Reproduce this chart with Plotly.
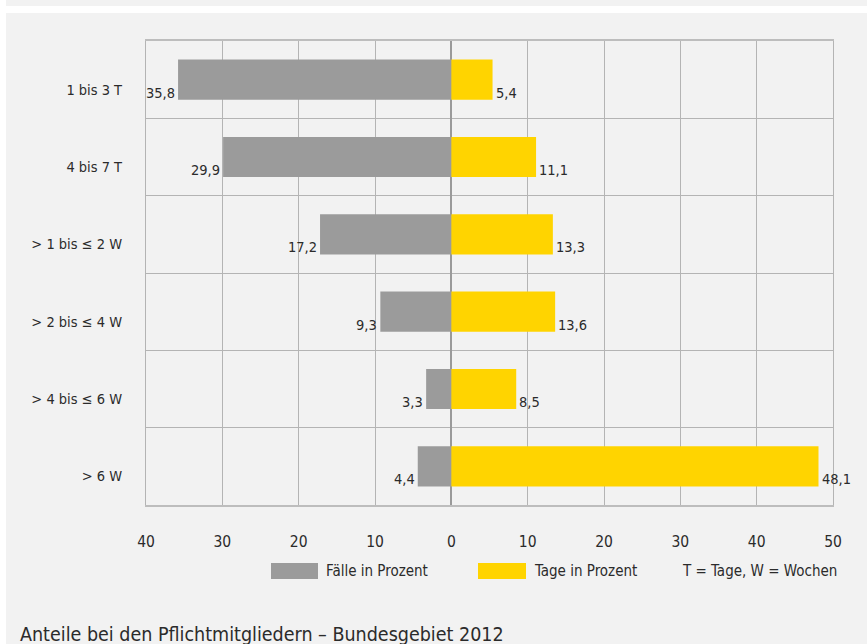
import plotly.graph_objects as go

categories = ["1 bis 3 T", "4 bis 7 T", "> 1 bis ≤ 2 W", "> 2 bis ≤ 4 W", "> 4 bis ≤ 6 W", "> 6 W"]
faelle = [35.8, 29.9, 17.2, 9.3, 3.3, 4.4]
tage = [5.4, 11.1, 13.3, 13.6, 8.5, 48.1]
x_ticks = [-40, -30, -20, -10, 0, 10, 20, 30, 40, 50]
x_ticktext = [str(abs(v)) for v in x_ticks]

FONT = "DejaVu Sans Condensed, Roboto Condensed, Liberation Sans Narrow, Roboto, sans-serif"
TXT = "#2b2b2b"
GRAY = "#9b9b9b"
YELLOW = "#ffd400"
GRID = "#b4b4b4"
BG = "#f2f2f2"

def fmt(v):
    return f"{v:.1f}".replace(".", ",")

fig = go.Figure()
fig.add_trace(go.Bar(y=categories, x=[-v for v in faelle], orientation="h",
                     marker=dict(color=GRAY, line=dict(width=0)), name="Fälle in Prozent",
                     hoverinfo="skip"))
fig.add_trace(go.Bar(y=categories, x=tage, orientation="h",
                     marker=dict(color=YELLOW, line=dict(width=0)), name="Tage in Prozent",
                     hoverinfo="skip"))

annotations = []
for c, v in zip(categories, faelle):
    annotations.append(dict(x=-v, y=c, xref="x", yref="y", text=fmt(v), showarrow=False,
                            xanchor="right", yanchor="bottom", xshift=-1, yshift=-23,
                            font=dict(family=FONT, size=14.5, color=TXT)))
for c, v in zip(categories, tage):
    annotations.append(dict(x=v, y=c, xref="x", yref="y", text=fmt(v), showarrow=False,
                            xanchor="left", yanchor="bottom", xshift=1, yshift=-23,
                            font=dict(family=FONT, size=14.5, color=TXT)))

# plot area in pixels: x 146..833, y 41..505
def px(p):
    return (p - 146) / 687.0
def py(p):
    return (505 - p) / 464.0

legend_items = [(271, 318, 324, GRAY, "Fälle in Prozent"), (478, 526, 532, YELLOW, "Tage in Prozent")]
shapes = [
    dict(type="rect", xref="paper", yref="paper", x0=px(6), x1=px(900), y0=py(13), y1=py(700),
         fillcolor=BG, line=dict(width=0), layer="below"),
    dict(type="rect", xref="paper", yref="paper", x0=px(6), x1=px(900), y0=py(-10), y1=py(6),
         fillcolor=BG, line=dict(width=0), layer="below"),
]
for x0, x1, tx, col, label in legend_items:
    shapes.append(dict(type="rect", xref="paper", yref="paper", x0=px(x0), x1=px(x1),
                       y0=py(579), y1=py(563), fillcolor=col, line=dict(width=0)))
    annotations.append(dict(x=px(tx), y=py(571), xref="paper", yref="paper", text=label,
                            showarrow=False, xanchor="left", yanchor="middle",
                            font=dict(family=FONT, size=15, color=TXT)))
annotations.append(dict(x=px(680), y=py(571), xref="paper", yref="paper", text="T = Tage, W = Wochen",
                        showarrow=False, xanchor="left", yanchor="middle",
                        font=dict(family=FONT, size=15, color=TXT)))
annotations.append(dict(x=px(18), y=py(634), xref="paper", yref="paper",
                        text="Anteile bei den Pflichtmitgliedern – Bundesgebiet 2012",
                        showarrow=False, xanchor="left", yanchor="middle",
                        font=dict(family=FONT, size=19.5, color=TXT)))

fig.update_layout(
    width=867, height=644,
    margin=dict(l=146, r=34, t=41, b=139),
    paper_bgcolor="white",
    plot_bgcolor="rgba(0,0,0,0)",
    barmode="relative",
    bargap=0.48,
    showlegend=False,
    font=dict(family=FONT, color=TXT),
    annotations=annotations,
    shapes=shapes,
    xaxis=dict(range=[-40, 50], tickvals=x_ticks, ticktext=x_ticktext,
               showgrid=True, gridcolor=GRID, gridwidth=1,
               zeroline=True, zerolinecolor="#9a9a9a", zerolinewidth=2,
               showline=True, linecolor="#bdbdbd", linewidth=2, mirror=True,
               ticks="", ticklabelstandoff=21, automargin=False,
               tickfont=dict(family=FONT, size=15.5, color=TXT), fixedrange=True),
    yaxis=dict(type="category", autorange="reversed", tickson="boundaries",
               showgrid=True, gridcolor=GRID, gridwidth=1,
               showline=True, linecolor=GRID, linewidth=1, mirror=True,
               ticks="", ticklabelstandoff=20, ticklabelshift=-10, automargin=False,
               tickfont=dict(family=FONT, size=14.5, color=TXT), fixedrange=True),
)

fig.write_html("out.html")
